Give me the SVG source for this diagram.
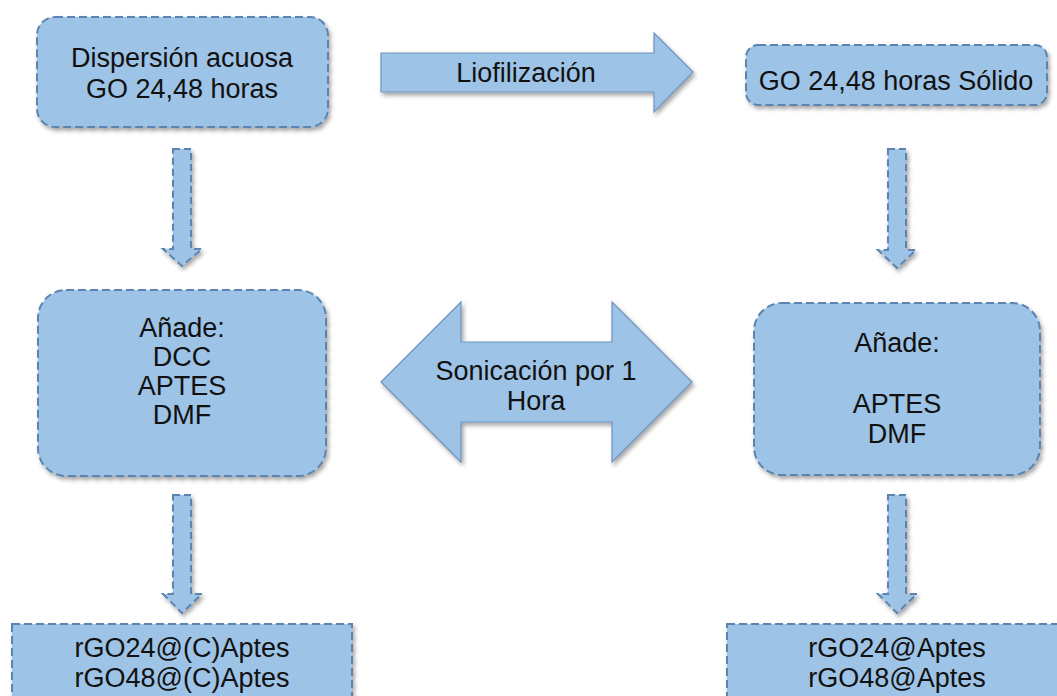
<svg xmlns="http://www.w3.org/2000/svg" width="1057" height="696" viewBox="0 0 1057 696">
<defs>
<filter id="sh" x="-10%" y="-10%" width="125%" height="130%">
<feDropShadow dx="2" dy="3" stdDeviation="2" flood-color="#000" flood-opacity="0.35"/>
</filter>
<style>
.box{fill:#9dc3e6;stroke:#5b84b1;stroke-width:2;stroke-dasharray:8 4;filter:url(#sh)}
.arr{fill:#9dc3e6;stroke:#6f93bd;stroke-width:1.2;filter:url(#sh)}
.darr{fill:#9dc3e6;stroke:#5b84b1;stroke-width:2;stroke-dasharray:7 4;filter:url(#sh)}
text{font-family:"Liberation Sans",Arial,sans-serif;font-size:27px;fill:#111;text-anchor:middle}
</style>
</defs>
<rect width="1057" height="696" fill="#fff"/>
<g id="connectors">
<polygon class="arr" points="381,53 654,53 654,33 693,72 654,112 654,92 381,92"/>
<text x="526" y="82" font-size="26">Liofilización</text>
<polygon class="arr" points="381,382 461,302 461,342 612,342 612,302 692,382 612,462 612,422 461,422 461,462"/>
<text x="536" y="380">Sonicación por 1</text>
<text x="536" y="410">Hora</text>
<polygon class="darr" points="173,149 191,149 191,249 202,249 182,266 163,249 173,249"/>
<polygon class="darr" points="888,149 906,149 906,250 916,250 897,268 878,250 888,250"/>
<polygon class="darr" points="173,495 191,495 191,594 202,594 182,613 163,594 173,594"/>
<polygon class="darr" points="888,495 906,495 906,594 917,594 897,613 878,594 888,594"/>
</g>
<g id="n1">
<rect class="box" x="37" y="17" width="291" height="110" rx="18"/>
<text x="182" y="67">Dispersión acuosa</text>
<text x="182" y="98">GO 24,48 horas</text>
</g>
<g id="n2">
<rect class="box" x="746" y="45" width="301" height="60" rx="12"/>
<text x="896" y="90">GO 24,48 horas Sólido</text>
</g>
<g id="n3">
<rect class="box" x="38" y="290" width="288" height="186" rx="28"/>
<text x="182" y="337">Añade:</text>
<text x="182" y="366">DCC</text>
<text x="182" y="395">APTES</text>
<text x="182" y="424">DMF</text>
</g>
<g id="n4">
<rect class="box" x="754" y="303" width="286" height="172" rx="28"/>
<text x="897" y="352">Añade:</text>
<text x="897" y="413">APTES</text>
<text x="897" y="443">DMF</text>
</g>
<g id="n5">
<rect class="box" x="12" y="624" width="340" height="90"/>
<text x="182" y="657">rGO24@(C)Aptes</text>
<text x="182" y="687">rGO48@(C)Aptes</text>
</g>
<g id="n6">
<rect class="box" x="727" y="624" width="350" height="90"/>
<text x="897" y="657">rGO24@Aptes</text>
<text x="897" y="687">rGO48@Aptes</text>
</g>
</svg>
